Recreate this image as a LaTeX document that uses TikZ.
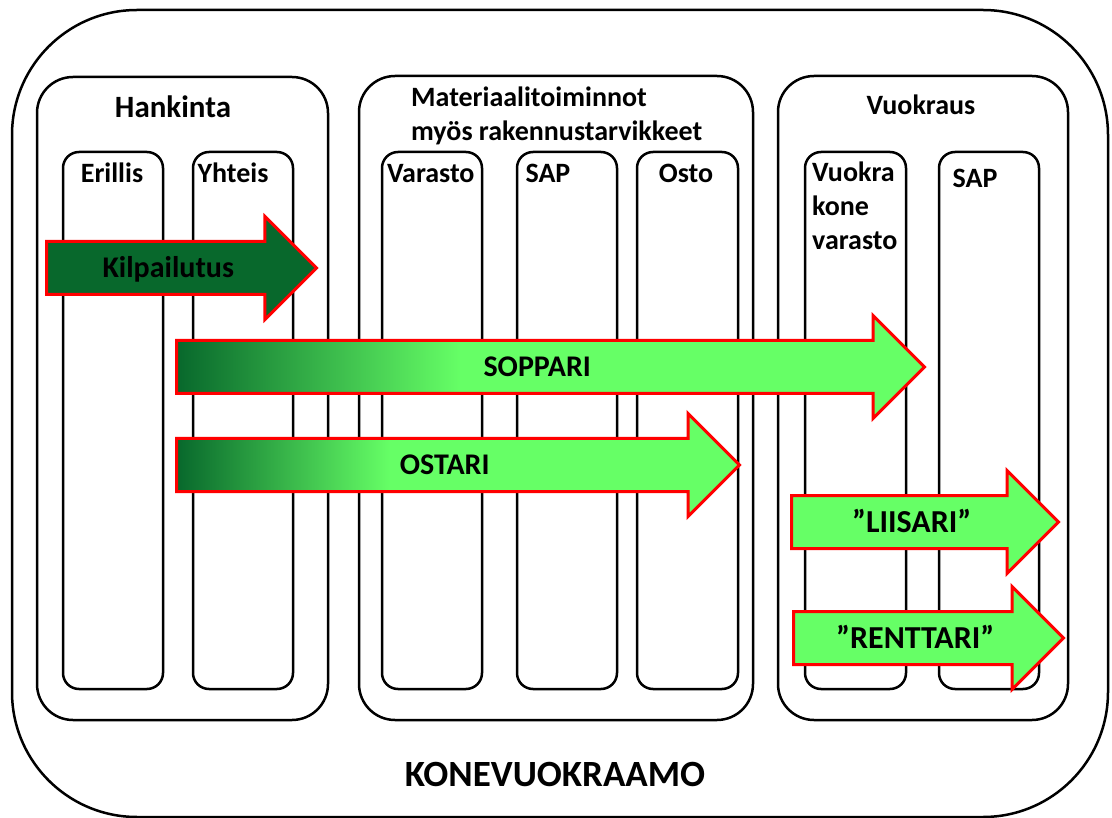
\documentclass[tikz,border=0pt]{standalone}
\usepackage{fontspec}
\setmainfont{Carlito}
\usetikzlibrary{shapes.arrows}
\definecolor{dkgreen}{RGB}{8,104,44}
\definecolor{ltgreen}{RGB}{102,255,102}
\pgfdeclarehorizontalshading{greenfade}{100bp}{color(0bp)=(dkgreen); color(25bp)=(dkgreen); color(44bp)=(ltgreen); color(100bp)=(ltgreen)}

\begin{document}
\begin{tikzpicture}[
  x=1pt, y=-1pt,
  panel/.style={draw, line width=2.5pt, rounded corners=36pt, inner sep=0pt},
  column/.style={draw, line width=2.5pt, rounded corners=16pt, inner sep=0pt, minimum width=100pt, minimum height=537pt},
  lbl/.style={font=\bfseries\fontsize{28}{34}\selectfont, inner sep=0pt},
  flow/.style={single arrow, draw=red, line width=3pt, single arrow head extend=25pt,
    text height=23pt, text depth=3pt, inner ysep=12pt, inner xsep=0pt, anchor=tail,
    font=\bfseries\fontsize{30}{36}\selectfont},
  fade/.style={shade, shading=greenfade, shading angle=0}
]
\useasboundingbox (0,0) rectangle (1112,818);
% outer frame
\node[panel, rounded corners=125pt, minimum width=1096pt, minimum height=807pt] (kone) at (560,413.5) {};
\node[lbl, font=\bfseries\fontsize{37}{44}\selectfont, anchor=base] (konelbl) at (555,786) {KONEVUOKRAAMO};
% three departments
\node[panel, minimum width=291pt, minimum height=643pt] (hank) at (182.5,398.5) {};
\node[panel, minimum width=394pt, minimum height=644pt] (mater) at (556,398) {};
\node[panel, minimum width=290pt, minimum height=644pt] (vuok) at (923,398) {};
\node[lbl, font=\bfseries\fontsize{31}{37}\selectfont, anchor=base] (hanklbl) at (173,118) {Hankinta};
\node[lbl, align=left, anchor=base west] (materlbl) at (411,141) {Materiaalitoiminnot\\myös rakennustarvikkeet};
\node[lbl, anchor=base] (vuoklbl) at (921,115) {Vuokraus};
% columns
\node[column] (eri) at (113,420.5) {};
\node[column] (yht) at (243,420.5) {};
\node[column] (var) at (432,420.5) {};
\node[column] (sap) at (567,420.5) {};
\node[column, minimum width=101pt] (osto) at (687.5,420.5) {};
\node[column, minimum width=101pt] (vkv) at (855.5,420.5) {};
\node[column] (sapb) at (989,420.5) {};
\node[lbl, anchor=base] at (112,183) {Erillis};
\node[lbl, anchor=base] at (233,183) {Yhteis};
\node[lbl, anchor=base west] at (387,183) {Varasto};
\node[lbl, anchor=base] at (548,183) {SAP};
\node[lbl, anchor=base] at (686,183) {Osto};
\node[lbl, align=left, anchor=base west] (vkvlbl) at (812,250) {Vuokra\\kone\\varasto};
\node[lbl, anchor=base] at (975,188) {SAP};
% flows
\node[flow, fill=dkgreen, minimum height=270pt] (kilp) at (45,268) {Kilpailutus};
\node[flow, fade, minimum height=748pt] (soppari) at (175,367) {SOPPARI};
\node[flow, fade, minimum height=563pt] (ostari) at (175,465) {OSTARI};
\node[flow, fill=ltgreen, minimum height=267pt, font=\bfseries\fontsize{32}{38}\selectfont] (liisari) at (790,522) {”LIISARI”};
\node[flow, fill=ltgreen, minimum height=270pt, font=\bfseries\fontsize{32}{38}\selectfont] (renttari) at (792,638) {”RENTTARI”};
\end{tikzpicture}
\end{document}
